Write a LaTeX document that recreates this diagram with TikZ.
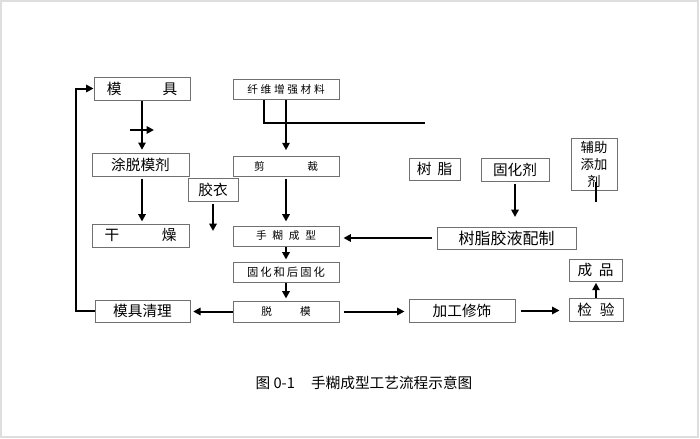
\documentclass[tikz,border=0pt]{standalone}
\usepackage{fontspec}
\setmainfont{Noto Sans CJK SC}
\usetikzlibrary{arrows.meta}
\definecolor{boxgray}{RGB}{112,112,112}
\definecolor{framegray}{RGB}{222,222,222}
\tikzset{
  box/.style={draw=boxgray, line width=0.75pt, inner sep=0pt, text=black},
  big/.style={font=\fontsize{11}{13}\selectfont},
  small/.style={font=\fontsize{8}{10}\selectfont},
  flow/.style={line width=1.5pt, -{Triangle[length=5.5pt,width=5.5pt]}},
  bar/.style={line width=1.5pt}
}
\begin{document}
\begin{tikzpicture}[x=0.75pt,y=-0.75pt]
    % frame of the figure
    \useasboundingbox (0,0) rectangle (700,439);
    \draw [framegray, line width=1.2pt] (1,1) rectangle (698,437);
    % left column
    \node [box, big, minimum width=72pt, minimum height=17.25pt] (mj) at (142,88.5) {模\hspace{2.8em}具};
    \node [box, big, minimum width=72.75pt, minimum height=17.25pt] (tl) at (140.5,164.5) {涂脱模剂};
    \node [box, big, minimum width=72.75pt, minimum height=17.25pt] (gz) at (140.5,235.5) {干\hspace{2.9em}燥};
    \node [box, big, minimum width=37.5pt, minimum height=17.25pt] (jy) at (213,189.5) {胶衣};
    \node [box, big, minimum width=71.25pt, minimum height=16.5pt] (mq) at (142.5,311) {模具清理};
    % middle column
    \node [box, small, minimum width=79.5pt, minimum height=15pt] (qw) at (286,89) {纤\hspace{2pt}维\hspace{2pt}增\hspace{2pt}强\hspace{2pt}材\hspace{2pt}料};
    \node [box, small, minimum width=79.5pt, minimum height=15pt] (jc) at (286,166) {剪\hspace{32pt}裁};
    \node [box, small, minimum width=79.5pt, minimum height=15pt] (hs) at (286,236) {手\hspace{4.3pt}糊\hspace{4.3pt}成\hspace{4.3pt}型};
    \node [box, minimum width=79.5pt, minimum height=15pt, font=\fontsize{8.5}{10}\selectfont] (gh) at (286,272) {固\hspace{1.5pt}化\hspace{1.5pt}和\hspace{1.5pt}后\hspace{1.5pt}固\hspace{1.5pt}化};
    \node [box, small, minimum width=79.5pt, minimum height=15.75pt] (tm) at (286,311.5) {脱\hspace{21pt}模};
    % right part
    \node [box, big, minimum width=38.25pt, minimum height=16.5pt] (sz) at (434.5,169) {树\hspace{4.5pt}脂};
    \node [box, big, minimum width=51pt, minimum height=17.25pt] (ghj) at (515,169.5) {固化剂};
    \node [box, align=center, minimum width=34.5pt, minimum height=39pt, font=\fontsize{10}{12.75}\selectfont] (fz) at (594,164) {辅助\\添加\\剂};
    \node [box, minimum width=104.25pt, minimum height=16.5pt, font=\fontsize{12}{14}\selectfont] (pz) at (506.5,238) {树脂胶液配制};
    \node [box, big, minimum width=79.5pt, minimum height=17.25pt] (jg) at (462,310.5) {加工修饰};
    \node [box, big, minimum width=40.5pt, minimum height=17.25pt] (jb) at (596,309.5) {检\hspace{6pt}验};
    \node [box, big, minimum width=39.75pt, minimum height=16.5pt] (cp) at (595.5,270) {成\hspace{5pt}品};
    % caption
    \node [font=\fontsize{11}{13}\selectfont] (cap) at (364,383) {图 0-1\hspace{1.1em}手糊成型工艺流程示意图};
    % free ends
    \coordinate (back) at (76,200);
    \coordinate (c1) at (130,130);
    \coordinate (c2) at (154,130);
    \coordinate (jyend) at (213,231);
    \coordinate (qw1) at (264,123);
    \coordinate (qwend) at (425,123);
    \coordinate (ghjend) at (515,217);
    \coordinate (fz1) at (596,182);
    \coordinate (fz2) at (596,202);
    % draw arrows
    \draw [flow] (mq.west) -| (back) |- (mj.west);
    \draw [flow, shorten >=2pt] (mj.south) -- (mj.south |- tl.north);
    \draw [flow] (c1) -- (c2);
    \draw [flow, shorten <=1.5pt, shorten >=1.5pt] (tl.south -| mj.south) -- (gz.north -| mj.south);
    \draw [flow, shorten <=1.5pt] (jy.south) -- (jyend);
    \draw [bar] (qw.south -| qw1) -- (qw1) -- (qwend);
    \draw [flow, shorten >=4pt] (qw.south) -- (jc.north);
    \draw [flow, shorten <=1.5pt, shorten >=3pt] (jc.south) -- (hs.north);
    \draw [flow, shorten >=1.5pt] (hs.south) -- (gh.north);
    \draw [flow, shorten >=1.5pt] (gh.south) -- (tm.north);
    \draw [flow, shorten <=3.75pt, shorten >=3pt] (pz.west) -- (pz.west -| hs.east);
    \draw [flow, shorten <=1.5pt] (ghj.south) -- (ghjend);
    \draw [bar] (fz1) -- (fz2);
    \draw [flow, shorten >=2pt] (tm.west) -- (tm.west -| mq.east);
    \draw [flow, shorten <=3pt, shorten >=3pt] (tm.east) -- (tm.east -| jg.west);
    \draw [flow, shorten <=3.75pt, shorten >=6.75pt] (jg.east) -- (jg.east -| jb.west);
    \draw [flow, shorten >=1pt] (jb.north) -- (jb.north |- cp.south);
\end{tikzpicture}
\end{document}
